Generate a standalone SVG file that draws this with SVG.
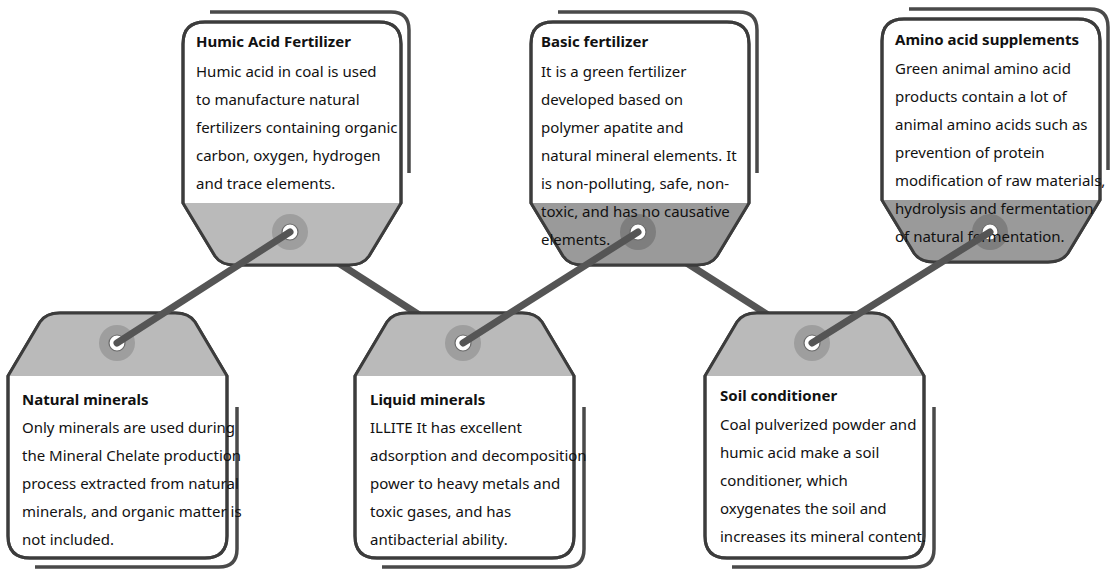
<svg xmlns="http://www.w3.org/2000/svg" width="1118" height="569" viewBox="0 0 1118 569">
<style>
.outline{fill:#fff;stroke:#3c3c3c;stroke-width:3;stroke-linejoin:round}
.grey-l{fill:#bababa}
.grey-d{fill:#9a9a9a}
.edge{fill:none;stroke:#3c3c3c;stroke-width:3;stroke-linejoin:round}
.shadow{fill:none;stroke:#4a4a4a;stroke-width:3.5}
.ring-l{fill:#9e9e9e}
.ring-d{fill:#7e7e7e}
.hole{fill:#fff;stroke:#6a6a6a;stroke-width:1.2}
.conn{stroke:#555;stroke-width:7;stroke-linecap:round;fill:none}
.title{font-family:"Noto Sans","Liberation Sans",sans-serif;font-size:15px;font-weight:bold;fill:#111}
.body{font-family:"Noto Sans","Liberation Sans",sans-serif;font-size:15px;fill:#111}
</style>
<defs>
<path id="topShape" d="M0,22 Q0,0 22,0 L196,0 Q218,0 218,22 L218,181 L186,234 Q180,243 166,243 L52,243 Q38,243 32,234 L0,181 Z"/>
<path id="topGrey" d="M0,181 L218,181 L186,234 Q180,243 166,243 L52,243 Q38,243 32,234 Z"/>
<path id="topShadow" d="M27,-10 L208,-10 Q226,-10 226,8 L226,151"/>
<path id="botShape" d="M0,63 L32,9 Q38,0 52,0 L167,0 Q181,0 187,9 L219,63 L219,223 Q219,245 197,245 L22,245 Q0,245 0,223 Z"/>
<path id="botGrey" d="M0,63 L32,9 Q38,0 52,0 L167,0 Q181,0 187,9 L219,63 Z"/>
<path id="botShadow" d="M229,94 L229,236 Q229,254 211,254 L27,254"/>
</defs>

<g id="connectors-back">
<line class="conn" x1="290" y1="232" x2="463" y2="343"/>
<line class="conn" x1="638" y1="232" x2="812" y2="343"/>
</g>

<g id="node-humic" transform="translate(183,22)">
<use href="#topShadow" class="shadow"/>
<use href="#topShape" class="outline"/>
<use href="#topGrey" class="grey-l"/>
<use href="#topShape" class="edge"/>
<circle class="ring-l" cx="107" cy="210" r="18"/>
<circle class="hole" cx="107" cy="210" r="8"/>
<text class="title" x="13" y="25">Humic Acid Fertilizer</text>
<text class="body" x="13" y="55">Humic acid in coal is used</text>
<text class="body" x="13" y="83">to manufacture natural</text>
<text class="body" x="13" y="111">fertilizers containing organic</text>
<text class="body" x="13" y="139">carbon, oxygen, hydrogen</text>
<text class="body" x="13" y="167">and trace elements.</text>
</g>

<g id="node-basic" transform="translate(531,22)">
<use href="#topShadow" class="shadow"/>
<use href="#topShape" class="outline"/>
<use href="#topGrey" class="grey-d"/>
<use href="#topShape" class="edge"/>
<circle class="ring-d" cx="107" cy="210" r="18"/>
<circle class="hole" cx="107" cy="210" r="8"/>
<text class="title" x="10" y="25">Basic fertilizer</text>
<text class="body" x="10" y="55">It is a green fertilizer</text>
<text class="body" x="10" y="83">developed based on</text>
<text class="body" x="10" y="111">polymer apatite and</text>
<text class="body" x="10" y="139">natural mineral elements. It</text>
<text class="body" x="10" y="167">is non-polluting, safe, non-</text>
<text class="body" x="10" y="195">toxic, and has no causative</text>
<text class="body" x="10" y="223">elements.</text>
</g>

<g id="node-amino" transform="translate(882,19)">
<use href="#topShadow" class="shadow"/>
<use href="#topShape" class="outline"/>
<use href="#topGrey" class="grey-d"/>
<use href="#topShape" class="edge"/>
<circle class="ring-d" cx="108" cy="213" r="18"/>
<circle class="hole" cx="108" cy="213" r="8"/>
<text class="title" x="13" y="26">Amino acid supplements</text>
<text class="body" x="13" y="55">Green animal amino acid</text>
<text class="body" x="13" y="83">products contain a lot of</text>
<text class="body" x="13" y="111">animal amino acids such as</text>
<text class="body" x="13" y="139">prevention of protein</text>
<text class="body" x="13" y="167">modification of raw materials,</text>
<text class="body" x="13" y="195">hydrolysis and fermentation</text>
<text class="body" x="13" y="223">of natural fermentation.</text>
</g>

<g id="node-natural" transform="translate(8,313)">
<use href="#botShadow" class="shadow"/>
<use href="#botShape" class="outline"/>
<use href="#botGrey" class="grey-l"/>
<use href="#botShape" class="edge"/>
<circle class="ring-l" cx="109" cy="30" r="18"/>
<circle class="hole" cx="109" cy="30" r="8"/>
<text class="title" x="14" y="92">Natural minerals</text>
<text class="body" x="14" y="120">Only minerals are used during</text>
<text class="body" x="14" y="148">the Mineral Chelate production</text>
<text class="body" x="14" y="176">process extracted from natural</text>
<text class="body" x="14" y="204">minerals, and organic matter is</text>
<text class="body" x="14" y="232">not included.</text>
</g>

<g id="node-liquid" transform="translate(355,313)">
<use href="#botShadow" class="shadow"/>
<use href="#botShape" class="outline"/>
<use href="#botGrey" class="grey-l"/>
<use href="#botShape" class="edge"/>
<circle class="ring-l" cx="108" cy="30" r="18"/>
<circle class="hole" cx="108" cy="30" r="8"/>
<text class="title" x="15" y="92">Liquid minerals</text>
<text class="body" x="15" y="120">ILLITE It has excellent</text>
<text class="body" x="15" y="148">adsorption and decomposition</text>
<text class="body" x="15" y="176">power to heavy metals and</text>
<text class="body" x="15" y="204">toxic gases, and has</text>
<text class="body" x="15" y="232">antibacterial ability.</text>
</g>

<g id="node-soil" transform="translate(705,313)">
<use href="#botShadow" class="shadow"/>
<use href="#botShape" class="outline"/>
<use href="#botGrey" class="grey-l"/>
<use href="#botShape" class="edge"/>
<circle class="ring-l" cx="107" cy="30" r="18"/>
<circle class="hole" cx="107" cy="30" r="8"/>
<text class="title" x="15" y="88">Soil conditioner</text>
<text class="body" x="15" y="117">Coal pulverized powder and</text>
<text class="body" x="15" y="145">humic acid make a soil</text>
<text class="body" x="15" y="173">conditioner, which</text>
<text class="body" x="15" y="201">oxygenates the soil and</text>
<text class="body" x="15" y="229">increases its mineral content.</text>
</g>

<g id="connectors-front">
<line class="conn" x1="117" y1="343" x2="290" y2="232"/>
<line class="conn" x1="463" y1="343" x2="638" y2="232"/>
<line class="conn" x1="812" y1="343" x2="990" y2="232"/>
</g>
</svg>
